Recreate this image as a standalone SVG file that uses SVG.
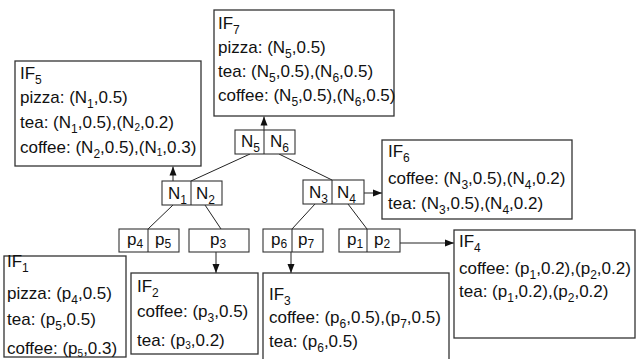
<svg xmlns="http://www.w3.org/2000/svg" width="636" height="359" viewBox="0 0 636 359">
<style>
text{font-family:"Liberation Sans",Arial,sans-serif;font-size:17px;fill:#111}
.s{font-size:12px}
.t{font-size:10px}
.box{fill:#fff;stroke:#333;stroke-width:1.3}
.cell{fill:#fff;stroke:#333;stroke-width:1.1}
.ln{stroke:#222;stroke-width:1;fill:none}
.ar{stroke:#222;stroke-width:1;fill:none;marker-end:url(#ah)}
</style>
<defs>
<marker id="ah" markerUnits="userSpaceOnUse" markerWidth="10" markerHeight="8" refX="9" refY="4" orient="auto">
<path d="M0,0.5 L9,4 L0,7.5 Z" fill="#111"/>
</marker>
</defs>
<rect x="0" y="0" width="636" height="359" fill="#fff"/>
<g id="connectors">
<line class="ar" x1="264" y1="130" x2="264" y2="116.5"/>
<line class="ar" x1="173" y1="181" x2="173" y2="166.5"/>
<line class="ln" x1="250" y1="154" x2="191" y2="181"/>
<line class="ln" x1="279" y1="154" x2="332" y2="180"/>
<line class="ln" x1="173" y1="205" x2="148" y2="229"/>
<line class="ln" x1="205" y1="205" x2="221" y2="229"/>
<line class="ln" x1="315" y1="204" x2="292" y2="229"/>
<line class="ln" x1="348" y1="204" x2="367" y2="229"/>
<line class="ar" x1="364" y1="193" x2="382" y2="193"/>
<line class="ar" x1="216" y1="252" x2="216" y2="273"/>
<line class="ar" x1="291" y1="252" x2="291" y2="273"/>
<line class="ar" x1="400" y1="243" x2="454" y2="243"/>
</g>
<g id="IF7">
<rect class="box" x="214" y="10" width="180" height="106"/>
<text x="218" y="29">IF<tspan class="s" dy="5">7</tspan></text>
<text x="218" y="53">pizza: (N<tspan class="s" dy="5">5</tspan><tspan dy="-5">,0.5)</tspan></text>
<text x="218" y="77">tea: (N<tspan class="s" dy="5">5</tspan><tspan dy="-5">,0.5),(N</tspan><tspan class="s" dy="5">6</tspan><tspan dy="-5">,0.5)</tspan></text>
<text x="218" y="101">coffee: (N<tspan class="s" dy="5">5</tspan><tspan dy="-5">,0.5),(N</tspan><tspan class="s" dy="5">6</tspan><tspan dy="-5">,0.5)</tspan></text>
</g>
<g id="IF5">
<rect class="box" x="15" y="61" width="186" height="105"/>
<text x="20" y="79">IF<tspan class="s" dy="5">5</tspan></text>
<text x="20" y="103">pizza: (N<tspan class="s" dy="5">1</tspan><tspan dy="-5">,0.5)</tspan></text>
<text x="20" y="128">tea: (N<tspan class="s" dy="5">1</tspan><tspan dy="-5">,0.5),(N</tspan><tspan class="t" dy="3">2</tspan><tspan dy="-3">,0.2)</tspan></text>
<text x="20" y="153">coffee: (N<tspan class="s" dy="5">2</tspan><tspan dy="-5">,0.5),(N</tspan><tspan class="t" dy="3">1</tspan><tspan dy="-3">,0.3)</tspan></text>
</g>
<g id="IF6">
<rect class="box" x="382" y="140" width="190" height="79"/>
<text x="388" y="157">IF<tspan class="s" dy="5">6</tspan></text>
<text x="388" y="184">coffee: (N<tspan class="s" dy="5">3</tspan><tspan dy="-5">,0.5),(N</tspan><tspan class="s" dy="5">4</tspan><tspan dy="-5">,0.2)</tspan></text>
<text x="388" y="209">tea: (N<tspan class="s" dy="5">3</tspan><tspan dy="-5">,0.5),(N</tspan><tspan class="s" dy="5">4</tspan><tspan dy="-5">,0.2)</tspan></text>
</g>
<g id="IF4">
<rect class="box" x="454" y="230" width="181" height="108"/>
<text x="459" y="247">IF<tspan class="s" dy="5">4</tspan></text>
<text x="459" y="274">coffee: (p<tspan class="s" dy="5">1</tspan><tspan dy="-5">,0.2),(p</tspan><tspan class="s" dy="5">2</tspan><tspan dy="-5">,0.2)</tspan></text>
<text x="459" y="297">tea: (p<tspan class="s" dy="5">1</tspan><tspan dy="-5">,0.2),(p</tspan><tspan class="s" dy="5">2</tspan><tspan dy="-5">,0.2)</tspan></text>
</g>
<g id="IF3">
<rect class="box" x="263" y="273" width="186" height="92"/>
<text x="269" y="300">IF<tspan class="s" dy="5">3</tspan></text>
<text x="269" y="323">coffee: (p<tspan class="s" dy="5">6</tspan><tspan dy="-5">,0.5),(p</tspan><tspan class="s" dy="5">7</tspan><tspan dy="-5">,0.5)</tspan></text>
<text x="269" y="347">tea: (p<tspan class="s" dy="5">6</tspan><tspan dy="-5">,0.5)</tspan></text>
</g>
<g id="IF2">
<rect class="box" x="131" y="273" width="127" height="81"/>
<text x="137" y="292">IF<tspan class="s" dy="5">2</tspan></text>
<text x="137" y="317">coffee: (p<tspan class="s" dy="5">3</tspan><tspan dy="-5">,0.5)</tspan></text>
<text x="137" y="346">tea: (p<tspan class="t" dy="3">3</tspan><tspan dy="-3">,0.2)</tspan></text>
</g>
<g id="IF1">
<rect class="box" x="4" y="256" width="122" height="101"/>
<text x="7" y="267">IF<tspan class="s" dy="5">1</tspan></text>
<text x="7" y="299">pizza: (p<tspan class="s" dy="5">4</tspan><tspan dy="-5">,0.5)</tspan></text>
<text x="7" y="325">tea: (p<tspan class="s" dy="5">5</tspan><tspan dy="-5">,0.5)</tspan></text>
<text x="7" y="354">coffee: (p<tspan class="t" dy="3">5</tspan><tspan dy="-3">,0.3)</tspan></text>
</g>
<g id="N5N6">
<rect class="cell" x="235" y="130" width="60" height="24"/>
<line class="ln" x1="264" y1="130" x2="264" y2="154"/>
<text x="241" y="147">N<tspan class="s" dy="5">5</tspan></text>
<text x="270" y="147">N<tspan class="s" dy="5">6</tspan></text>
</g>
<g id="N1N2">
<rect class="cell" x="162" y="181" width="60" height="24"/>
<line class="ln" x1="191" y1="181" x2="191" y2="205"/>
<text x="168" y="199">N<tspan class="s" dy="5">1</tspan></text>
<text x="196" y="199">N<tspan class="s" dy="5">2</tspan></text>
</g>
<g id="N3N4">
<rect class="cell" x="303" y="180" width="61" height="24"/>
<line class="ln" x1="332" y1="180" x2="332" y2="204"/>
<text x="309" y="198">N<tspan class="s" dy="5">3</tspan></text>
<text x="337" y="198">N<tspan class="s" dy="5">4</tspan></text>
</g>
<g id="p4p5">
<rect class="cell" x="119" y="229" width="60" height="23"/>
<line class="ln" x1="148" y1="229" x2="148" y2="252"/>
<text x="127" y="245">p<tspan class="s" dy="3">4</tspan></text>
<text x="155" y="245">p<tspan class="s" dy="3">5</tspan></text>
</g>
<g id="p3">
<rect class="cell" x="189" y="229" width="60" height="23"/>
<text x="210" y="245">p<tspan class="s" dy="3">3</tspan></text>
</g>
<g id="p6p7">
<rect class="cell" x="263" y="229" width="60" height="23"/>
<line class="ln" x1="292" y1="229" x2="292" y2="252"/>
<text x="271" y="245">p<tspan class="s" dy="3">6</tspan></text>
<text x="298" y="245">p<tspan class="s" dy="3">7</tspan></text>
</g>
<g id="p1p2">
<rect class="cell" x="339" y="229" width="61" height="23"/>
<line class="ln" x1="367" y1="229" x2="367" y2="252"/>
<text x="347" y="245">p<tspan class="s" dy="3">1</tspan></text>
<text x="374" y="245">p<tspan class="s" dy="3">2</tspan></text>
</g>
</svg>
